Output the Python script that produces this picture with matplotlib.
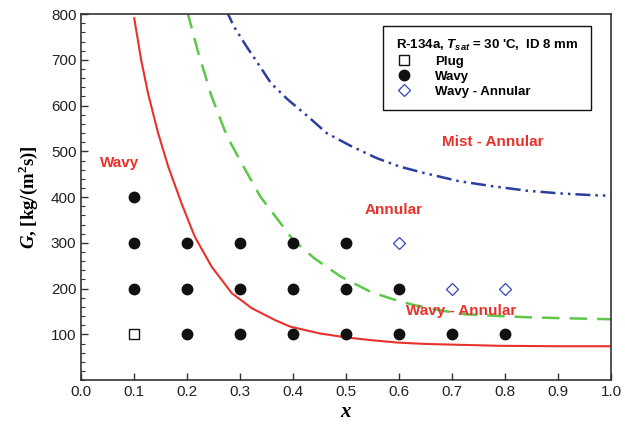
import numpy as np
import matplotlib.pyplot as plt
from matplotlib.ticker import MultipleLocator

plt.rcParams["font.family"] = ["Liberation Sans", "DejaVu Sans"]
plt.rcParams["mathtext.fontset"] = "custom"
plt.rcParams["mathtext.rm"] = "Liberation Sans:bold"
plt.rcParams["mathtext.it"] = "Liberation Sans:italic:bold"
plt.rcParams["mathtext.bf"] = "Liberation Serif:bold"
plt.rcParams["mathtext.bfit"] = "Liberation Serif:italic:bold"

# transition curves
red_x = [0.100, 0.113, 0.126, 0.145, 0.164, 0.189, 0.214, 0.246, 0.284, 0.322, 0.366,
         0.394, 0.450, 0.502, 0.550, 0.597, 0.650, 0.720, 0.787, 0.900, 1.000]
red_G = [791, 700, 627, 540, 467, 387, 314, 248, 190, 157, 131,
         117, 102, 93, 87, 82, 79, 77, 75, 74, 74]

green_x = [0.200, 0.221, 0.246, 0.275, 0.306, 0.338, 0.376, 0.400, 0.440, 0.490, 0.546,
           0.590, 0.628, 0.680, 0.723, 0.790, 0.850, 0.920, 1.000]
green_G = [806, 715, 620, 533, 467, 401, 343, 306, 266, 226, 193,
           176, 164, 152, 144, 140, 137, 135, 133]

blue_x = [0.273, 0.288, 0.312, 0.333, 0.358, 0.390, 0.428, 0.463, 0.510, 0.558,
          0.600, 0.646, 0.712, 0.775, 0.841, 0.904, 0.970, 1.000]
blue_G = [810, 773, 729, 693, 649, 613, 576, 540, 511, 485,
          467, 453, 435, 424, 414, 408, 404, 403]

# measured points
plug_x = [0.1]
plug_G = [100]
wavy_x = [0.1, 0.1, 0.1, 0.2, 0.2, 0.2, 0.3, 0.3, 0.3, 0.4, 0.4, 0.4, 0.5, 0.5, 0.5, 0.6, 0.6, 0.7, 0.8]
wavy_G = [200, 300, 400, 100, 200, 300, 100, 200, 300, 100, 200, 300, 100, 200, 300, 100, 200, 100, 100]
wa_x = [0.6, 0.7, 0.8]
wa_G = [300, 200, 200]

x_ticks = [0.0, 0.1, 0.2, 0.3, 0.4, 0.5, 0.6, 0.7, 0.8, 0.9, 1.0]
y_ticks = [100, 200, 300, 400, 500, 600, 700, 800]

fig = plt.figure(figsize=(6.25, 4.29), dpi=100)
ax = fig.add_axes([0.130, 0.114, 0.848, 0.853])

ax.plot(red_x, red_G, color="#e8312a", linewidth=1.5)
ax.plot(green_x, green_G, color="#5cc84a", linewidth=1.8, linestyle=(0, (7, 4)))
ax.plot(blue_x, blue_G, color="#2a3f9e", linewidth=1.8, linestyle=(0, (6, 2, 1, 2, 1, 2)))

h1, = ax.plot(plug_x, plug_G, "s", markersize=6.5, markerfacecolor="white",
              markeredgecolor="#111111", markeredgewidth=1.0, linestyle="none", label="Plug")
h2, = ax.plot(wavy_x, wavy_G, "o", markersize=7.5, color="#111111", linestyle="none", label="Wavy")
h3, = ax.plot(wa_x, wa_G, "D", markersize=6.5, markerfacecolor="white",
              markeredgecolor="#3344bb", markeredgewidth=0.9, linestyle="none", label="Wavy - Annular")

lab = dict(color="#e8312a", fontsize=11, fontweight="bold", ha="center", va="center")
ax.text(0.072, 475, "Wavy", **lab)
ax.text(0.590, 372, "Annular", **lab)
ax.text(0.777, 521, "Mist - Annular", **lab)
ax.text(0.717, 150, "Wavy - Annular", **lab)

leg = ax.legend(handles=[h1, h2, h3], loc="upper right", bbox_to_anchor=(0.974, 0.987),
                title=r"R-134a, $T_{sat}$ = 30 'C,  ID 8 mm", fancybox=False,
                edgecolor="#111111", framealpha=1, prop={"weight": "bold", "size": 9.5},
                title_fontproperties={"weight": "bold", "size": 9.5},
                handletextpad=1.8, borderpad=0.95, labelspacing=0.2, handlelength=1.2)
leg._legend_box.align = "left"
leg.get_frame().set_linewidth(1.0)

ax.set_xlim(0, 1.0)
ax.set_ylim(0, 800)
ax.set_xticks(x_ticks)
ax.set_xticklabels([f"{v:.1f}" for v in x_ticks])
ax.set_yticks(y_ticks)
ax.yaxis.set_minor_locator(MultipleLocator(20))
ax.tick_params(which="both", direction="in", top=False, right=False,
               labelsize=11, labelcolor="#222222", color="#333333")
ax.tick_params(which="major", length=5, width=1)
ax.tick_params(which="minor", length=3, width=0.8)
for s in ax.spines.values():
    s.set_linewidth(1.2)
    s.set_color("#333333")

ax.set_xlabel(r"$\mathbfit{x}$", fontsize=15, labelpad=2)
ax.set_ylabel(r"$\mathbfit{G}$, [kg/(m$^{\mathbf{2}}$s)]", fontsize=13.5,
              family="Liberation Serif", fontweight="bold", labelpad=8)

fig.savefig("out.png", dpi=100)
